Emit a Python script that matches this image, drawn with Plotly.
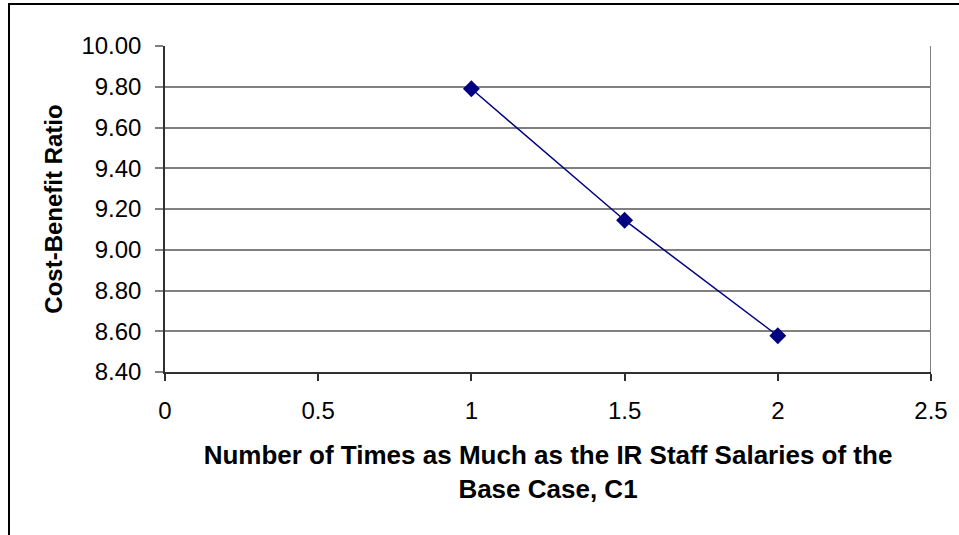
import plotly.graph_objects as go

# Sensitivity of the cost-benefit ratio to IR staff salaries
salary_multiple = [1.0, 1.5, 2.0]
cost_benefit = [9.79, 9.145, 8.578]

x_ticks = [0, 0.5, 1, 1.5, 2, 2.5]
y_ticks = [8.4, 8.6, 8.8, 9.0, 9.2, 9.4, 9.6, 9.8, 10.0]

W, H = 959, 535
L, R, T, B = 165, 28, 46, 163
pw, ph = W - L - R, H - T - B

def px_to_paper_x(px):
    return (px - L) / pw

def px_to_paper_y(py):
    return (H - B - py) / ph

fig = go.Figure()
fig.add_trace(go.Scatter(
    x=salary_multiple, y=cost_benefit,
    mode="lines+markers",
    line=dict(color="#000080", width=1.5),
    marker=dict(symbol="diamond", size=13, color="#000080"),
    showlegend=False,
))

font = "Liberation Sans, Arial, sans-serif"

fig.update_layout(
    width=W, height=H,
    margin=dict(l=L, r=R, t=T, b=B),
    paper_bgcolor="white", plot_bgcolor="white",
    font=dict(family=font, color="black"),
    xaxis=dict(
        range=[0, 2.5], tickvals=x_ticks, ticktext=[f"{v:g}" for v in x_ticks],
        showgrid=False, zeroline=False,
        showline=True, linecolor="#303030", linewidth=1.5,
        ticks="outside", ticklen=7, tickcolor="#303030", tickwidth=1.5,
        tickfont=dict(size=24), ticklabelstandoff=9,
        title=dict(text="<b>Number of Times as Much as the IR Staff Salaries of the<br>Base Case, C1</b>",
                   font=dict(size=26), standoff=23),
    ),
    yaxis=dict(
        range=[8.4, 10.0], tickvals=y_ticks, ticktext=[f"{v:.2f}" for v in y_ticks],
        showgrid=True, gridcolor="#808080", gridwidth=1.5, zeroline=False,
        showline=True, linecolor="#303030", linewidth=1.5,
        ticks="outside", ticklen=8, tickcolor="#808080", tickwidth=1.5,
        tickfont=dict(size=24), ticklabelstandoff=9,
        title=dict(text="<b>Cost-Benefit Ratio</b>", font=dict(size=24), standoff=12),
    ),
)

# right edge of the plotting area
fig.add_shape(type="line", xref="x", yref="paper", x0=2.5, x1=2.5, y0=0, y1=1,
              line=dict(color="#808080", width=2))

# outer frame of the chart
fig.add_shape(type="rect", xref="paper", yref="paper",
              x0=px_to_paper_x(9), x1=px_to_paper_x(975),
              y0=px_to_paper_y(550), y1=px_to_paper_y(4),
              line=dict(color="black", width=2), fillcolor="rgba(0,0,0,0)", layer="below")

fig.write_html("out.html")
